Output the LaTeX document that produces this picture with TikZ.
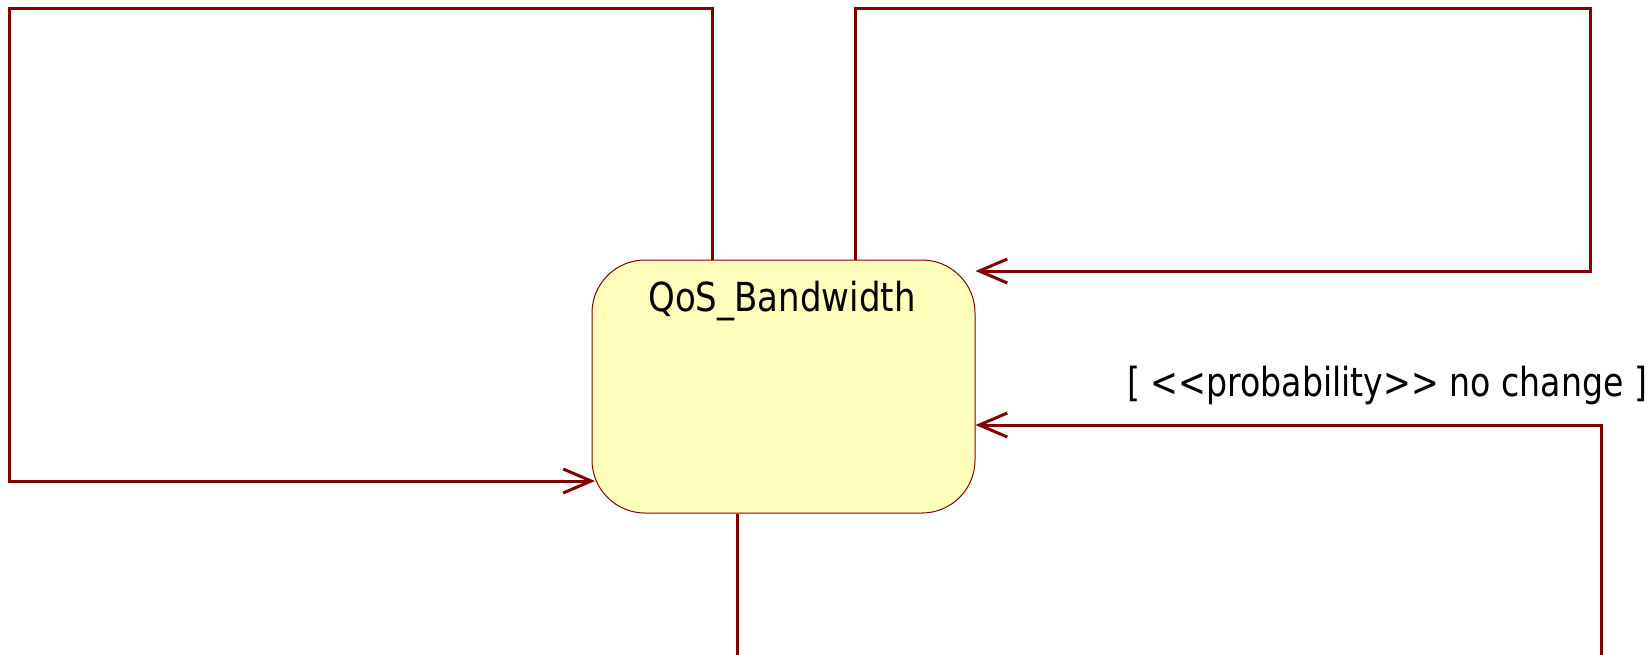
\documentclass[tikz,border=0pt]{standalone}
\usepackage{fontspec}
\usetikzlibrary{arrows.meta}
\newfontfamily\umlfont[FakeStretch=0.85]{DejaVu Sans}
\newfontfamily\guardfont[FakeStretch=0.83]{DejaVu Sans}
\definecolor{wire}{RGB}{128,0,0}
\definecolor{statefill}{RGB}{255,255,187}
\tikzset{
  statebox/.style={draw=wire, line width=1pt, fill=statefill, rounded corners=53pt,
    minimum width=383pt, minimum height=253pt, inner sep=0pt},
  umltext/.style={font=\umlfont\fontsize{40}{48}\selectfont, inner sep=0pt, text=black},
  guardtext/.style={font=\guardfont\fontsize{40}{48}\selectfont, inner sep=0pt, text=black},
  conn/.style={draw=wire, line width=3pt},
  arr/.style={-{Straight Barb[length=28pt,width=24pt]}}
}
\begin{document}
\begin{tikzpicture}[x=1pt,y=-1pt]
  \useasboundingbox (0,0) rectangle (1649,654);
  \clip (0,0) rectangle (1649,654);
  \fill[white] (0,0) rectangle (1649,654);

  % state
  \node[statebox] (s) at (783.5,386.5) {};
  \node[umltext, anchor=base] (title) at (782,311) {QoS\_Bandwidth};

  % route corners and free ends
  \coordinate (lt) at (9,8);
  \coordinate (lin) at (595,481);
  \coordinate (rt) at (1590,8);
  \coordinate (rin) at (1590,271);
  \coordinate (br) at (1601,660);
  \coordinate (brin) at (1601,425);
  \coordinate (out) at (737,660);

  % self transitions
  \draw[conn, arr] ([xshift=-71.5pt]s.north) |- (lt) |- (lin);
  \draw[conn, arr] ([xshift=71.5pt]s.north) |- (rt) |- (s.east |- rin);
  \draw[conn, arr] (br) |- (s.east |- brin);
  \draw[conn] ([xshift=-46.5pt]s.south) -- (out);

  % guard
  \node[guardtext, anchor=base west] (guard) at (1127,396) {[ <<probability>> no change ]};
\end{tikzpicture}
\end{document}
